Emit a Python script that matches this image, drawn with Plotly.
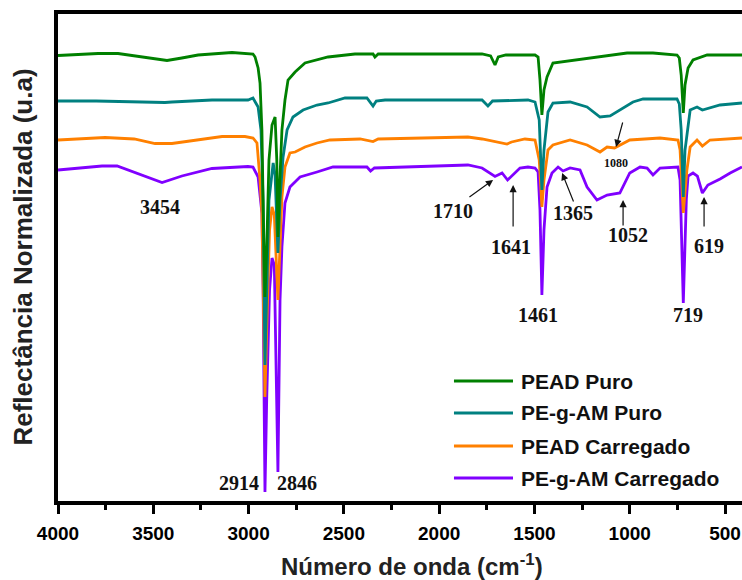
import plotly.graph_objects as go

# FTIR spectra: wavenumber (cm-1) and stacked normalized reflectance (a.u.)
pead_puro_wn = [4000, 3790, 3685, 3550, 3454, 3428, 3350, 3265, 3087, 3003,
                2977, 2966, 2950, 2940, 2930, 2924, 2914, 2905, 2893, 2877,
                2861, 2852, 2846, 2838, 2825, 2809, 2793, 2756, 2704, 2583,
                2442, 2347, 2337, 2320, 1849, 1775, 1730, 1707, 1690, 1650,
                1497, 1481, 1471, 1461, 1450, 1434, 1403, 1365, 1277, 1172,
                1014, 878, 752, 740, 730, 719, 710, 694, 668, 594,
                411]
pead_puro_r = [88.9, 89.3, 89.3, 88.6, 88.0, 87.9, 88.4, 89.0, 89.5, 89.3,
               89.2, 88.6, 86.4, 83.4, 74.0, 60.0, 40.6, 50.0, 68.0, 75.0,
               76.6, 68.0, 52.6, 62.0, 74.0, 80.0, 84.0, 85.6, 87.4, 88.6,
               89.2, 89.2, 88.6, 89.2, 89.2, 89.2, 88.8, 87.0, 88.6, 89.0,
               89.0, 88.6, 84.0, 77.0, 82.0, 84.6, 87.4, 87.6, 88.0, 88.6,
               89.4, 89.4, 89.0, 88.4, 85.0, 77.4, 83.0, 86.4, 88.0, 89.0,
               89.0]

pegam_puro_wn = [4000, 3800, 3439, 3402, 3192, 3003, 2977, 2950, 2935, 2924,
                 2914, 2905, 2893, 2871, 2861, 2846, 2835, 2819, 2798, 2767,
                 2714, 2641, 2583, 2494, 2379, 2347, 2330, 2284, 1775, 1744,
                 1720, 1534, 1497, 1475, 1461, 1450, 1429, 1403, 1313, 1224,
                 1156, 1103, 1051, 983, 930, 752, 740, 730, 719, 710,
                 683, 647, 619, 526, 411]
pegam_puro_r = [79.8, 79.8, 79.5, 79.6, 80.0, 80.0, 80.4, 78.6, 74.0, 60.0,
                27.0, 40.0, 60.0, 67.4, 65.0, 49.4, 60.0, 68.6, 74.0, 76.6,
                78.0, 79.0, 79.4, 80.4, 80.4, 78.8, 79.8, 80.0, 80.0, 78.8,
                79.8, 80.0, 79.6, 76.0, 62.0, 70.0, 77.6, 79.4, 79.6, 78.6,
                76.6, 76.8, 78.0, 79.6, 80.2, 80.2, 79.2, 74.0, 60.6, 70.0,
                78.0, 78.6, 78.0, 79.0, 79.4]

pead_carr_wn = [4000, 3753, 3600, 3491, 3402, 3265, 3139, 3019, 2977, 2956,
                2940, 2930, 2924, 2914, 2905, 2890, 2877, 2865, 2846, 2835,
                2825, 2809, 2783, 2756, 2704, 2641, 2573, 2415, 2347, 2320,
                1849, 1775, 1644, 1620, 1550, 1497, 1475, 1461, 1450, 1429,
                1403, 1313, 1224, 1156, 1119, 1080, 1000, 841, 747, 736,
                719, 700, 683, 647, 619, 579, 411]
pead_carr_r = [72.0, 72.5, 72.2, 71.3, 71.3, 72.1, 72.7, 72.7, 72.4, 71.4,
               64.0, 57.4, 40.0, 20.6, 34.0, 54.0, 58.6, 57.0, 40.0, 52.0,
               60.6, 66.6, 69.4, 69.6, 70.6, 71.4, 72.0, 72.2, 71.7, 72.2,
               72.6, 72.2, 71.2, 71.6, 72.2, 72.0, 68.0, 58.6, 64.0, 70.0,
               71.0, 72.0, 71.0, 69.6, 70.6, 70.4, 72.0, 72.4, 72.0, 70.0,
               57.4, 66.0, 70.6, 72.0, 70.8, 72.0, 72.4]

pegam_carr_wn = [4000, 3769, 3690, 3600, 3454, 3350, 3192, 3003, 2977, 2950,
                 2930, 2924, 2914, 2905, 2890, 2877, 2865, 2846, 2835, 2825,
                 2809, 2783, 2730, 2641, 2557, 2379, 2360, 2340, 1849, 1775,
                 1707, 1670, 1641, 1576, 1534, 1497, 1481, 1471, 1461, 1450,
                 1434, 1408, 1376, 1350, 1313, 1261, 1224, 1172, 1119, 1052,
                 1000, 946, 909, 878, 841, 747, 736, 719, 703, 694,
                 668, 645, 619, 590, 526, 473, 411]
pegam_carr_r = [66.0, 66.8, 66.8, 65.6, 63.5, 64.8, 66.3, 66.7, 66.6, 64.6,
                57.4, 42.6, 1.6, 20.0, 42.0, 48.4, 47.0, 5.6, 40.0, 50.6,
                59.4, 62.6, 64.6, 65.6, 66.6, 66.6, 65.8, 66.4, 67.0, 66.4,
                64.7, 65.4, 64.0, 66.4, 66.6, 66.4, 65.6, 58.0, 41.0, 54.0,
                62.6, 65.4, 66.6, 65.8, 66.4, 66.0, 62.6, 60.0, 61.0, 61.4,
                65.4, 66.6, 66.4, 65.0, 66.4, 66.6, 64.0, 39.4, 60.2, 64.8,
                65.4, 64.8, 61.4, 63.0, 64.2, 65.4, 66.6]

series_names = ["PEAD Puro", "PE-g-AM Puro", "PEAD Carregado", "PE-g-AM Carregado"]
series_colors = ["#008000", "#008080", "#FF8000", "#8000FF"]
series_wn = [pead_puro_wn, pegam_puro_wn, pead_carr_wn, pegam_carr_wn]
series_r = [pead_puro_r, pegam_puro_r, pead_carr_r, pegam_carr_r]

# Band labels: (text, wavenumber, reflectance, font size)
band_labels = [
    ("3454", 3465, 58.6, 20), ("2914", 3050, 3.4, 20), ("2846", 2746, 3.4, 20),
    ("1710", 1927, 57.8, 20), ("1641", 1623, 50.6, 20), ("1365", 1298, 57.4, 20),
    ("1052", 1009, 53.0, 20), ("619", 584, 50.8, 20), ("1461", 1481, 37.0, 20),
    ("719", 694, 37.0, 20), ("1080", 1072, 67.4, 12),
]
# Arrows: (tail wavenumber, tail reflectance, tip wavenumber, tip reflectance)
band_arrows = [
    (1849, 60.4, 1717, 64.0), (1612, 54.4, 1612, 63.0), (1292, 59.4, 1355, 65.4),
    (1035, 54.6, 1035, 60.0), (610, 54.4, 610, 60.6), (1035, 75.8, 1072, 70.6),
]

x_ticks = [4000, 3500, 3000, 2500, 2000, 1500, 1000, 500]

fig = go.Figure()
# draw the loaded PE-g-AM first so the pure PEAD ends up on top
for name, color, wn, r in reversed(list(zip(series_names, series_colors, series_wn, series_r))):
    fig.add_trace(go.Scatter(x=wn, y=r, mode="lines", name=name,
                             line=dict(color=color, width=2.8), showlegend=False))

sans = "Liberation Sans, Arial, sans-serif"
serif = "Liberation Serif, Times New Roman, serif"

annotations = []
for text, x, y, size in band_labels:
    annotations.append(dict(x=x, y=y, xref="x", yref="y", text=f"<b>{text}</b>",
                            showarrow=False, font=dict(family=serif, size=size, color="#111")))
for xt, yt, xh, yh in band_arrows:
    annotations.append(dict(x=xh, y=yh, xref="x", yref="y", ax=xt, ay=yt,
                            axref="x", ayref="y", text="", showarrow=True,
                            arrowhead=2, arrowsize=1.2, arrowwidth=1.2, arrowcolor="#111"))

# manual legend
leg_rows = [0.2464, 0.1807, 0.1129, 0.0472]
shapes = []
for name, color, ly in zip(series_names, series_colors, leg_rows):
    shapes.append(dict(type="line", xref="paper", yref="paper", x0=0.5789, x1=0.6652,
                       y0=ly, y1=ly, line=dict(color=color, width=3)))
    annotations.append(dict(x=0.674, y=ly, xref="paper", yref="paper", text=f"<b>{name}</b>",
                            showarrow=False, xanchor="left", yanchor="middle",
                            font=dict(family=sans, size=21, color="#111")))

# axis titles
annotations.append(dict(x=0.5175, y=-0.131, xref="paper", yref="paper",
                        text="<b>Número de onda (cm<sup>-1</sup>)</b>", showarrow=False,
                        xanchor="center", yanchor="middle",
                        font=dict(family=sans, size=24, color="#222")))
annotations.append(dict(x=-0.0526, y=0.5, xref="paper", yref="paper",
                        text="<b>Reflectância Normalizada (u.a)</b>", showarrow=False,
                        textangle=-90, xanchor="center", yanchor="middle",
                        font=dict(family=sans, size=26, color="#222")))

fig.update_layout(
    width=742, height=580,
    margin=dict(l=58, r=0, t=14, b=79),
    paper_bgcolor="white", plot_bgcolor="white",
    annotations=annotations, shapes=shapes,
    xaxis=dict(range=[4000, 411], tickvals=x_ticks, ticktext=[f"<b>{v}</b>" for v in x_ticks],
               ticks="outside", ticklen=9, tickwidth=3, tickcolor="black",
               minor=dict(dtick=250, tick0=0, ticks="outside", ticklen=5, tickwidth=3, tickcolor="black"),
               showline=True, linewidth=4, linecolor="black", mirror=True,
               showgrid=False, zeroline=False, ticklabelstandoff=3,
               tickfont=dict(family=sans, size=19, color="black")),
    yaxis=dict(range=[-0.2, 97.2], showticklabels=False, ticks="",
               showline=True, linewidth=4, linecolor="black", mirror=False,
               showgrid=False, zeroline=False),
)

fig.write_html("out.html")
